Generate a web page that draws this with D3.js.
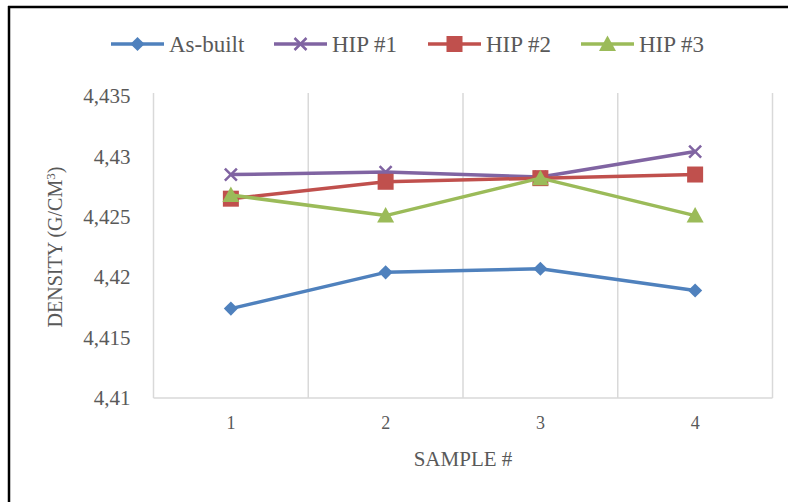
<!DOCTYPE html>
<html>
<head>
<meta charset="utf-8">
<script src="https://cdn.jsdelivr.net/npm/d3@7"></script>
<style>
html,body{margin:0;padding:0;background:#fff;}
svg{display:block;}
text{font-family:"Liberation Serif","DejaVu Serif",serif;fill:#595959;}
</style>
</head>
<body>
<svg id="chart" width="788" height="502"></svg>
<script>
const categories = ["1", "2", "3", "4"];
const seriesNames = ["As-built", "HIP #1", "HIP #2", "HIP #3"];
const asBuilt = [4.4174, 4.4204, 4.4207, 4.4189];
const hip1 = [4.4285, 4.4287, 4.4283, 4.4304];
const hip2 = [4.4265, 4.4279, 4.4282, 4.4285];
const hip3 = [4.4268, 4.4251, 4.4282, 4.4251];
const yTicks = [4.41, 4.415, 4.42, 4.425, 4.43, 4.435];
const yTickLabels = ["4,41", "4,415", "4,42", "4,425", "4,43", "4,435"];
const colors = ["#4F81BD", "#8064A2", "#C0504D", "#9BBB59"];
const markers = ["diamond", "x", "square", "triangle"];

const seriesValues = [asBuilt, hip1, hip2, hip3];
const svg = d3.select("#chart");

// outer border (top and left only)
svg.append("line").attr("x1", 8).attr("x2", 788).attr("y1", 7).attr("y2", 7)
  .attr("stroke", "#000").attr("stroke-width", 2.5);
svg.append("line").attr("x1", 9).attr("x2", 9).attr("y1", 6).attr("y2", 502)
  .attr("stroke", "#000").attr("stroke-width", 2.5);

const pLeft = 153.5, pRight = 772.5, pTop = 96, pBottom = 398;
const x = d3.scaleBand().domain(categories).range([pLeft, pRight]);
const y = d3.scaleLinear().domain([4.41, 4.435]).range([pBottom, pTop]);

// vertical gridlines at band boundaries
const bounds = categories.map(c => x(c)).concat([x(categories[categories.length - 1]) + x.bandwidth()]);
svg.append("g").selectAll("line").data(bounds).join("line")
  .attr("x1", d => d).attr("x2", d => d)
  .attr("y1", pTop - 3).attr("y2", pBottom)
  .attr("stroke", "#d9d9d9").attr("stroke-width", 1.5);
// bottom axis line
svg.append("line").attr("x1", pLeft).attr("x2", pRight).attr("y1", pBottom).attr("y2", pBottom)
  .attr("stroke", "#d9d9d9").attr("stroke-width", 1.5);

// y axis labels
const yAxis = d3.axisLeft(y).tickValues(yTicks)
  .tickFormat((d, i) => yTickLabels[i]).tickSize(0).tickPadding(23);
const gy = svg.append("g").attr("transform", `translate(${pLeft},0)`).call(yAxis);
gy.select(".domain").remove();
gy.selectAll("text").style("font-family", '"Liberation Serif", serif')
  .style("font-size", "21px").attr("fill", "#595959");

// x axis labels
const xAxis = d3.axisBottom(x).tickSize(0).tickPadding(18);
const gx = svg.append("g").attr("transform", `translate(0,${pBottom})`).call(xAxis);
gx.select(".domain").remove();
gx.selectAll("text").style("font-family", '"Liberation Serif", serif')
  .style("font-size", "18px").attr("fill", "#595959");

// axis titles
svg.append("text").attr("x", (pLeft + pRight) / 2).attr("y", 466)
  .attr("text-anchor", "middle").style("font-size", "21px").text("SAMPLE #");
const yt = svg.append("text").attr("transform", "translate(62,247) rotate(-90)")
  .attr("text-anchor", "middle").style("font-size", "20px");
yt.append("tspan").text("DENSITY (G/CM");
yt.append("tspan").attr("dy", -7).style("font-size", "13px").text("3");
yt.append("tspan").attr("dy", 7).text(")");

// marker drawing
function drawMarker(g, type, color, cx, cy) {
  if (type === "diamond") {
    g.append("path").attr("d", d3.symbol(d3.symbolSquare, 100)())
      .attr("transform", `translate(${cx},${cy}) rotate(45)`).attr("fill", color);
  } else if (type === "square") {
    g.append("rect").attr("x", cx - 8).attr("y", cy - 8).attr("width", 16).attr("height", 16)
      .attr("fill", color);
  } else if (type === "triangle") {
    g.append("path").attr("d", `M${cx},${cy - 8.5}L${cx + 8.5},${cy + 7}L${cx - 8.5},${cy + 7}Z`)
      .attr("fill", color);
  } else if (type === "x") {
    g.append("path").attr("d", `M${cx - 6},${cy - 6}L${cx + 6},${cy + 6}M${cx + 6},${cy - 6}L${cx - 6},${cy + 6}`)
      .attr("stroke", color).attr("stroke-width", 2.5).attr("fill", "none");
  }
}

const line = d3.line().x((d, i) => x(categories[i]) + x.bandwidth() / 2).y(d => y(d));
seriesValues.forEach((vals, s) => {
  const g = svg.append("g");
  g.append("path").datum(vals).attr("d", line)
    .attr("fill", "none").attr("stroke", colors[s]).attr("stroke-width", 3.5)
    .attr("stroke-linejoin", "round").attr("stroke-linecap", "round");
  vals.forEach((v, i) => drawMarker(g, markers[s], colors[s], x(categories[i]) + x.bandwidth() / 2, y(v)));
});

// legend
const legendX = [111, 274, 428, 581];
const legendY = 44;
seriesNames.forEach((name, s) => {
  const g = svg.append("g");
  g.append("line").attr("x1", legendX[s]).attr("x2", legendX[s] + 53)
    .attr("y1", legendY).attr("y2", legendY).attr("stroke", colors[s]).attr("stroke-width", 3.5);
  drawMarker(g, markers[s], colors[s], legendX[s] + 26.5, legendY);
  g.append("text").attr("x", legendX[s] + 58).attr("y", legendY).attr("dy", "0.35em")
    .style("font-size", "23px").attr("fill", "#404040").text(name);
});
</script>
</body>
</html>
